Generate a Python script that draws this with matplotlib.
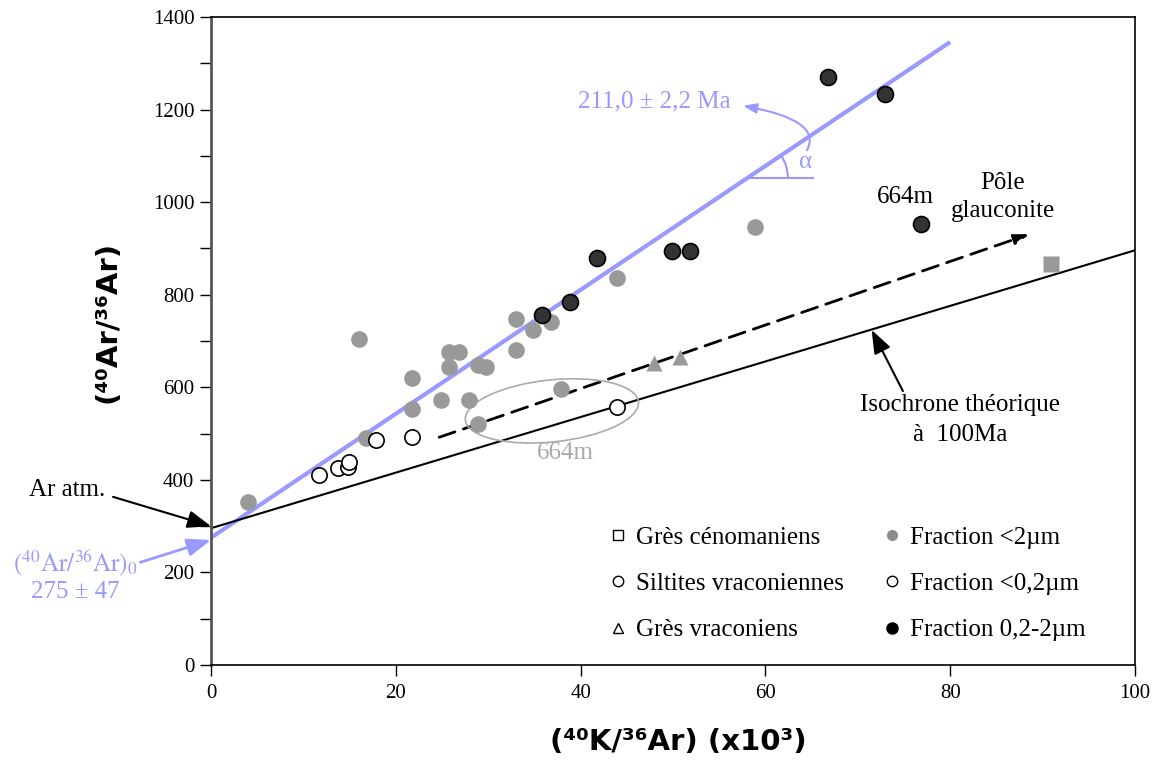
import numpy as np
import matplotlib
matplotlib.use("Agg")
from matplotlib import pyplot as plt
from matplotlib import patches, transforms
from matplotlib.lines import Line2D
from matplotlib.ticker import MultipleLocator

frac_lt2_x = [4, 16, 16.8, 21.8, 21.8, 24.9, 25.8, 25.8, 26.8, 27.9, 28.9, 29.8,
              28.9, 33.0, 33.0, 34.8, 36.8, 37.9, 43.9, 58.9]
frac_lt2_y = [352, 704, 490, 620, 553, 572, 677, 643, 677, 573, 648, 643,
              520, 747, 680, 724, 742, 596, 837, 947]

frac_lt02_x = [11.7, 13.7, 14.8, 14.9, 17.9, 21.8, 43.9]
frac_lt02_y = [410, 425, 428, 438, 486, 492, 558]

frac_02_2_x = [35.8, 38.9, 41.8, 49.9, 51.8, 66.8, 72.9, 76.8]
frac_02_2_y = [757, 785, 879, 894, 894, 1270, 1234, 953]

gres_vrac_x = [47.9, 50.8]
gres_vrac_y = [652, 666]

gres_ceno_x = [90.9]
gres_ceno_y = [866]

# isochrone fitted (211 Ma) and theoretical isochrone at 100 Ma
fit_x = [0, 80]
fit_y = [275, 1346]
theo_x = [0, 100]
theo_y = [295.5, 896]
# trend towards the glauconite pole
trend_start = (24.7, 492)
trend_end = (88.6, 931)

legend_labels = ["Grès cénomaniens", "Siltites vraconiennes", "Grès vraconiens",
                 "Fraction <2µm", "Fraction <0,2µm", "Fraction 0,2-2µm"]

blue = "#9999ff"
gray = "#999999"
dark = "#333333"

plt.rcParams["font.family"] = ["Liberation Serif", "DejaVu Serif"]
plt.rcParams["mathtext.fontset"] = "stix"

fig = plt.figure(figsize=(11.56, 7.6), dpi=100)
ax = fig.add_axes([0.1825, 0.125, 0.7993, 0.8526])

# lines
ax.plot(fit_x, fit_y, color=blue, lw=3, solid_capstyle="butt", zorder=2)
ax.plot(theo_x, theo_y, color="black", lw=1.5, zorder=2)
ax.annotate("", xy=trend_end, xytext=trend_start,
            arrowprops=dict(arrowstyle="-|>,head_length=0.9,head_width=0.3",
                            color="black", lw=2, linestyle=(0, (6, 3.2)),
                            shrinkA=0, shrinkB=0), zorder=2)

# points
ax.plot(frac_lt2_x, frac_lt2_y, ls="none", marker="o", ms=12, mfc=gray, mec="none", zorder=3)
ax.plot(gres_vrac_x, gres_vrac_y, ls="none", marker="^", ms=12, mfc=gray, mec="none", zorder=3)
ax.plot(gres_ceno_x, gres_ceno_y, ls="none", marker="s", ms=11, mfc=gray, mec="none", zorder=3)
ax.plot(frac_lt02_x, frac_lt02_y, ls="none", marker="o", ms=11, mfc="white", mec="black",
        mew=1.2, zorder=4)
ax.plot(frac_02_2_x, frac_02_2_y, ls="none", marker="o", ms=11.5, mfc=dark, mec="black",
        mew=1.2, zorder=4)

# 664m ellipse (drawn in pixel units so the tilt looks right)
ell = patches.Ellipse((0, 0), 174, 62, angle=6, fill=False, ec="#aaaaaa", lw=1.2,
                      transform=transforms.ScaledTranslation(36.9, 549, ax.transData),
                      zorder=2)
ax.add_patch(ell)
ax.text(38.4, 458, "664m", color="#aaaaaa", fontsize=18, ha="center", va="center")

# angle alpha
vx, vy = 58.0, 1052
ax.plot([vx, 65.15], [vy, vy], color=blue, lw=1.5)
arc = patches.Arc((0, 0), 82, 82, theta1=0, theta2=34, color=blue, lw=1.5,
                  transform=transforms.ScaledTranslation(vx, vy, ax.transData))
ax.add_patch(arc)
ax.text(64.3, 1086, "α", color=blue, fontsize=18, ha="center", va="center")
ax.annotate("", xy=(57.6, 1208), xytext=(64.5, 1112),
            arrowprops=dict(arrowstyle="-|>,head_length=0.8,head_width=0.3", color=blue,
                            lw=1.5, shrinkA=0, shrinkB=0,
                            connectionstyle="angle3,angleA=62,angleB=-10"))
ax.text(48.0, 1218, "211,0 ± 2,2 Ma", color=blue, fontsize=18, ha="center", va="center")

# annotations around the origin
ax.annotate("Ar atm.", xy=(0, 300), xytext=(-15.6, 378), fontsize=18, ha="center",
            va="center", annotation_clip=False,
            arrowprops=dict(arrowstyle="-|>,head_length=0.8,head_width=0.3", color="black",
                            lw=1.5, shrinkA=4, shrinkB=0, relpos=(1.0, 0.3)))
ax.annotate(r"$(^{40}\mathrm{Ar}/^{36}\mathrm{Ar})_0$", xy=(0, 270), xytext=(-14.7, 220),
            fontsize=18, color=blue, ha="center", va="center", annotation_clip=False,
            arrowprops=dict(arrowstyle="-|>,head_length=0.8,head_width=0.3", color=blue,
                            lw=2, shrinkA=0, shrinkB=0, relpos=(1.0, 0.5)))
ax.text(-14.7, 157, "275 ± 47", fontsize=18, color=blue, ha="center", va="center",
        clip_on=False)

ax.text(75.2, 1011, "664m", fontsize=18, ha="center", va="center")
ax.text(85.7, 1011, "Pôle\nglauconite", fontsize=18, ha="center", va="center",
        linespacing=1.35)
ax.annotate("Isochrone théorique\nà  100Ma", xy=(71.5, 724), xytext=(81.1, 530),
            fontsize=18, ha="center", va="center", linespacing=1.45,
            arrowprops=dict(arrowstyle="-|>,head_length=0.8,head_width=0.3", color="black",
                            lw=1.5, shrinkA=0, shrinkB=0, relpos=(0.22, 1.0)))

# legend
handles = [
    Line2D([], [], ls="none", marker="s", ms=7.5, mfc="white", mec="black", mew=1),
    Line2D([], [], ls="none", marker="o", ms=7.5, mfc="white", mec="black", mew=1),
    Line2D([], [], ls="none", marker="^", ms=7.5, mfc="white", mec="black", mew=1),
    Line2D([], [], ls="none", marker="o", ms=8, mfc="#8c8c8c", mec="none"),
    Line2D([], [], ls="none", marker="o", ms=7.5, mfc="white", mec="black", mew=1),
    Line2D([], [], ls="none", marker="o", ms=8, mfc="black", mec="black"),
]
ax.legend(handles, legend_labels, ncol=2, frameon=False, loc="upper left",
          bbox_to_anchor=(0.43, 0.214), borderpad=0, borderaxespad=0,
          handlelength=0.8, handletextpad=0.3, columnspacing=1.55, labelspacing=0.95,
          fontsize=18)

# axes
ax.set_xlim(0, 100)
ax.set_ylim(0, 1400)
ax.xaxis.set_major_locator(MultipleLocator(20))
ax.yaxis.set_major_locator(MultipleLocator(200))
ax.yaxis.set_minor_locator(MultipleLocator(100))
ax.tick_params(axis="both", which="both", direction="out", length=8, width=1,
               labelsize=15)
ax.tick_params(axis="x", pad=6)
ax.tick_params(axis="y", pad=4)
for side in ["top", "right", "bottom"]:
    ax.spines[side].set_linewidth(1.2)
ax.spines["left"].set_linewidth(2)
ax.spines["left"].set_color("#555555")

fig.text(0.0934, 0.576, "(⁴⁰Ar/³⁶Ar)", rotation=90, fontsize=21, fontweight="bold",
         family="DejaVu Sans", ha="center", va="center")
fig.text(0.5865, 0.0237, "(⁴⁰K/³⁶Ar) (x10³)", fontsize=21, fontweight="bold",
         family="DejaVu Sans", ha="center", va="center")

fig.savefig("out.png", dpi=100)
